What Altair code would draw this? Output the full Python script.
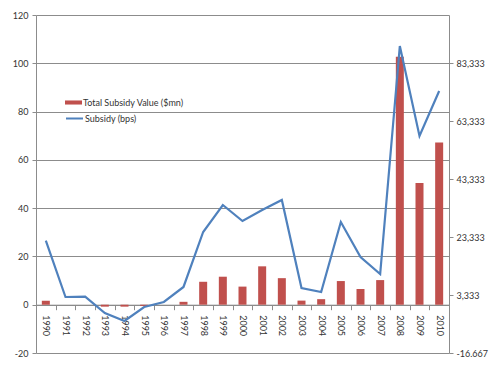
import altair as alt
import pandas as pd

years = [str(y) for y in range(1990, 2011)]
subsidy_value_mn = [1.6, 0.0, 0.0, -0.8, -0.8, -0.5, 0.0, 1.2, 9.5, 11.6, 7.5, 15.9, 11.0,
                    1.7, 2.3, 9.8, 6.5, 10.2, 102.7, 50.4, 67.2]
subsidy_bps = [22100, 2660, 2770, -2860, -5620, -790, 940, 6120, 25100, 34420, 28900,
               32700, 36150, 5770, 4390, 28550, 16470, 10600, 89300, 58240, 73780]
bar_name = "Total Subsidy Value ($mn)"
line_name = "Subsidy (bps)"
right_ticks = [-16667, 3333, 23333, 43333, 63333, 83333]

df = pd.DataFrame({
    "year": years,
    "value": subsidy_value_mn,
    "bps": subsidy_bps,
    "bar_series": [bar_name] * len(years),
    "line_series": [line_name] * len(years),
})

FONT = "Lato"
GRID = "#8c8c8c"
LBL = "#333333"

x_enc = alt.X(
    "year:N",
    sort=years,
    scale=alt.Scale(paddingInner=0, paddingOuter=0),
    axis=alt.Axis(
        title=None, labelAngle=90, offset=-48.3, tickBand="extent", tickSize=5,
        domainColor=GRID, tickColor=GRID, labelColor=LBL, labelFontSize=9,
        labelPadding=5, grid=False, labelFont=FONT,
    ),
)

bars = alt.Chart(df).mark_bar(size=8).encode(
    x=x_enc,
    y=alt.Y(
        "value:Q",
        scale=alt.Scale(domain=[-20, 120], nice=False, zero=False),
        axis=alt.Axis(
            title=None, values=list(range(-20, 121, 20)), grid=True, gridColor=GRID,
            gridWidth=1, domainColor=GRID, tickColor=GRID, tickSize=4,
            labelColor=LBL, labelFontSize=9, labelFont=FONT, labelPadding=4,
            labelExpr="replace(format(datum.value, 'd'), '\u2212', '-')",
        ),
    ),
    fill=alt.Fill(
        "bar_series:N",
        scale=alt.Scale(domain=[bar_name], range=["#C0504D"]),
        legend=alt.Legend(
            title=None, orient="none", legendX=29, legendY=79,
            symbolType="M-1,-0.24L1,-0.24L1,0.24L-1,0.24Z", symbolSize=289,
            symbolStrokeWidth=0, labelFontSize=9, labelFont=FONT, labelColor=LBL,
            labelOffset=1,
        ),
    ),
)

line = alt.Chart(df).mark_line(strokeWidth=2.2).encode(
    x=alt.X("year:N", sort=years),
    y=alt.Y(
        "bps:Q",
        scale=alt.Scale(domain=[-16667, 100000], nice=False, zero=False),
        axis=alt.Axis(
            title=None, orient="right", values=right_ticks, grid=False,
            domainColor=GRID, tickColor=GRID, tickSize=4,
            labelColor=LBL, labelFontSize=9, labelFont=FONT, labelPadding=3,
            labelExpr="replace(format(datum.value, ',.0f'), '\u2212', '-')",
        ),
    ),
    stroke=alt.Stroke(
        "line_series:N",
        scale=alt.Scale(domain=[line_name], range=["#4F81BD"]),
        legend=alt.Legend(
            title=None, orient="none", legendX=29, legendY=94,
            symbolType="stroke", symbolSize=289, symbolStrokeWidth=2,
            labelFontSize=9, labelFont=FONT, labelColor=LBL, labelOffset=1,
        ),
    ),
)

chart = (
    alt.layer(bars, line)
    .resolve_scale(y="independent", fill="independent", stroke="independent")
    .properties(
        width=413, height=338,
        autosize=alt.AutoSizeParams(type="none"),
        padding={"left": 28, "top": 7, "right": 40, "bottom": 4},
        background="white",
    )
    .configure_view(strokeWidth=0)
)

chart.save("out.html", embed_options={"renderer": "svg", "actions": False})
